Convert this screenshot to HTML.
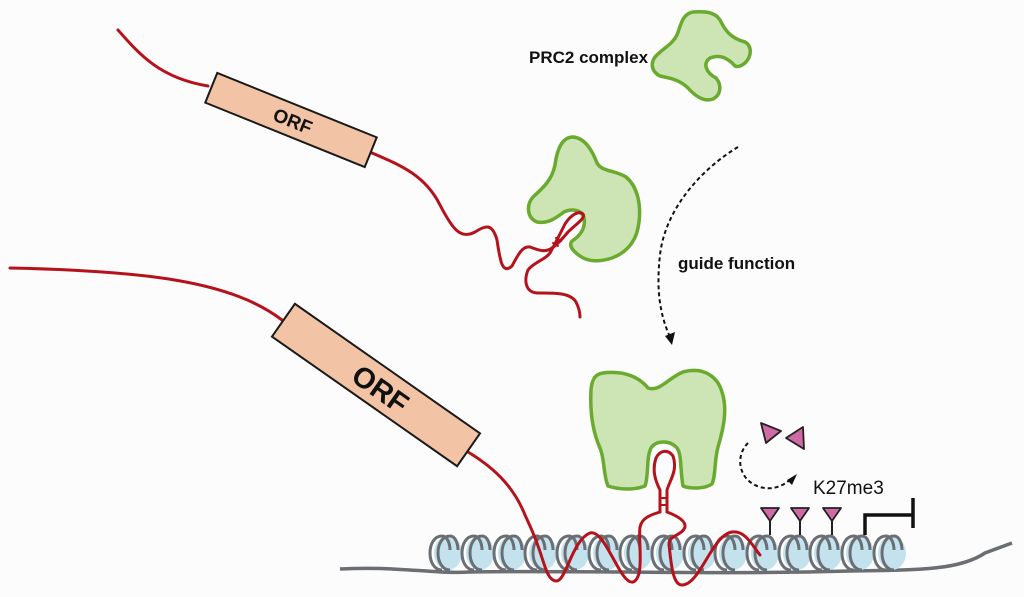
<!DOCTYPE html>
<html><head><meta charset="utf-8"><style>
html,body{margin:0;padding:0;background:#fcfcfc;}
svg{display:block;}
text{font-family:"Liberation Sans",Arial,sans-serif;}
</style></head><body>
<svg width="1024" height="597" viewBox="0 0 1024 597" xmlns="http://www.w3.org/2000/svg">
<rect width="1024" height="597" fill="#fcfcfc"/>
<!-- DNA line -->
<path d="M340 569 C400 566 430 574 470 572 C600 570 700 575 850 571 C920 570 960 570 985 553 L1012 543" fill="none" stroke="#6b6e72" stroke-width="3.5"/>
<!-- nucleosomes -->
<g>
<g transform="translate(448,553)"><ellipse rx="14" ry="17" fill="#c4e2ee"/><path d="M2 17 C-14 17 -14 -17 2 -17 C8 -17 10 -8 10 -3 M-6 17 C-22 17 -22 -17 -6 -17 C0 -17 2 -8 2 -3" fill="none" stroke="#6b6e72" stroke-width="3"/></g>
<g transform="translate(480,553)"><ellipse rx="14" ry="17" fill="#c4e2ee"/><path d="M2 17 C-14 17 -14 -17 2 -17 C8 -17 10 -8 10 -3 M-6 17 C-22 17 -22 -17 -6 -17 C0 -17 2 -8 2 -3" fill="none" stroke="#6b6e72" stroke-width="3"/></g>
<g transform="translate(512,553)"><ellipse rx="14" ry="17" fill="#c4e2ee"/><path d="M2 17 C-14 17 -14 -17 2 -17 C8 -17 10 -8 10 -3 M-6 17 C-22 17 -22 -17 -6 -17 C0 -17 2 -8 2 -3" fill="none" stroke="#6b6e72" stroke-width="3"/></g>
<g transform="translate(543,553)"><ellipse rx="14" ry="17" fill="#c4e2ee"/><path d="M2 17 C-14 17 -14 -17 2 -17 C8 -17 10 -8 10 -3 M-6 17 C-22 17 -22 -17 -6 -17 C0 -17 2 -8 2 -3" fill="none" stroke="#6b6e72" stroke-width="3"/></g>
<g transform="translate(575,553)"><ellipse rx="14" ry="17" fill="#c4e2ee"/><path d="M2 17 C-14 17 -14 -17 2 -17 C8 -17 10 -8 10 -3 M-6 17 C-22 17 -22 -17 -6 -17 C0 -17 2 -8 2 -3" fill="none" stroke="#6b6e72" stroke-width="3"/></g>
<g transform="translate(607,553)"><ellipse rx="14" ry="17" fill="#c4e2ee"/><path d="M2 17 C-14 17 -14 -17 2 -17 C8 -17 10 -8 10 -3 M-6 17 C-22 17 -22 -17 -6 -17 C0 -17 2 -8 2 -3" fill="none" stroke="#6b6e72" stroke-width="3"/></g>
<g transform="translate(638,553)"><ellipse rx="14" ry="17" fill="#c4e2ee"/><path d="M2 17 C-14 17 -14 -17 2 -17 C8 -17 10 -8 10 -3 M-6 17 C-22 17 -22 -17 -6 -17 C0 -17 2 -8 2 -3" fill="none" stroke="#6b6e72" stroke-width="3"/></g>
<g transform="translate(670,553)"><ellipse rx="14" ry="17" fill="#c4e2ee"/><path d="M2 17 C-14 17 -14 -17 2 -17 C8 -17 10 -8 10 -3 M-6 17 C-22 17 -22 -17 -6 -17 C0 -17 2 -8 2 -3" fill="none" stroke="#6b6e72" stroke-width="3"/></g>
<g transform="translate(702,553)"><ellipse rx="14" ry="17" fill="#c4e2ee"/><path d="M2 17 C-14 17 -14 -17 2 -17 C8 -17 10 -8 10 -3 M-6 17 C-22 17 -22 -17 -6 -17 C0 -17 2 -8 2 -3" fill="none" stroke="#6b6e72" stroke-width="3"/></g>
<g transform="translate(733,553)"><ellipse rx="14" ry="17" fill="#c4e2ee"/><path d="M2 17 C-14 17 -14 -17 2 -17 C8 -17 10 -8 10 -3 M-6 17 C-22 17 -22 -17 -6 -17 C0 -17 2 -8 2 -3" fill="none" stroke="#6b6e72" stroke-width="3"/></g>
<g transform="translate(765,553)"><ellipse rx="14" ry="17" fill="#c4e2ee"/><path d="M2 17 C-14 17 -14 -17 2 -17 C8 -17 10 -8 10 -3 M-6 17 C-22 17 -22 -17 -6 -17 C0 -17 2 -8 2 -3" fill="none" stroke="#6b6e72" stroke-width="3"/></g>
<g transform="translate(797,553)"><ellipse rx="14" ry="17" fill="#c4e2ee"/><path d="M2 17 C-14 17 -14 -17 2 -17 C8 -17 10 -8 10 -3 M-6 17 C-22 17 -22 -17 -6 -17 C0 -17 2 -8 2 -3" fill="none" stroke="#6b6e72" stroke-width="3"/></g>
<g transform="translate(828,553)"><ellipse rx="14" ry="17" fill="#c4e2ee"/><path d="M2 17 C-14 17 -14 -17 2 -17 C8 -17 10 -8 10 -3 M-6 17 C-22 17 -22 -17 -6 -17 C0 -17 2 -8 2 -3" fill="none" stroke="#6b6e72" stroke-width="3"/></g>
<g transform="translate(860,553)"><ellipse rx="14" ry="17" fill="#c4e2ee"/><path d="M2 17 C-14 17 -14 -17 2 -17 C8 -17 10 -8 10 -3 M-6 17 C-22 17 -22 -17 -6 -17 C0 -17 2 -8 2 -3" fill="none" stroke="#6b6e72" stroke-width="3"/></g>
<g transform="translate(892,553)"><ellipse rx="14" ry="17" fill="#c4e2ee"/><path d="M2 17 C-14 17 -14 -17 2 -17 C8 -17 10 -8 10 -3 M-6 17 C-22 17 -22 -17 -6 -17 C0 -17 2 -8 2 -3" fill="none" stroke="#6b6e72" stroke-width="3"/></g>
</g>

<!-- PRC2 shapes -->
<g fill="#cde4b5" stroke="#6aaa2e" stroke-width="3.5" stroke-linejoin="round">
<path d="M693 12 C705 11 715 12 720 20 C725 30 730 38 745 42 C752 46 752 56 745 63 C740 67 737 67 735 66 C728 58 720 54 710 58 C703 63 705 72 716 78 C722 85 721 95 713 99 C705 102 697 98 688 88 C680 80 670 78 660 76 C652 72 650 64 655 57 C663 48 672 45 677 35 C681 25 682 14 693 12 Z"/>
<path d="M573 137 C585 138 592 150 597 163 C602 172 615 170 626 177 C638 187 641 205 639 222 C637 240 628 252 612 258 C600 262 588 262 580 256 C574 252 568 246 572 241 C580 236 586 228 584 218 C582 210 572 208 564 212 C556 218 548 224 537 222 C527 218 526 205 533 197 C543 188 552 180 555 165 C557 150 562 137 573 137 Z"/>
<path d="M603 373 C625 370 640 378 648 388 C660 392 668 378 683 372 C705 366 718 378 722 392 C728 410 723 430 718 447 C714 462 716 475 712 484 C705 489 690 489 683 486 C680 470 682 455 677 448 C670 440 656 440 651 448 C646 458 649 475 645 486 C635 490 620 490 608 486 C603 474 605 460 600 448 C592 430 590 410 591 390 C592 378 596 374 603 373 Z"/>
</g>

<!-- red RNA lines -->
<g fill="none" stroke="#b5121b" stroke-width="3" stroke-linecap="round" stroke-linejoin="round">
<path d="M118 30 C140 55 160 78 208 86"/>
<path d="M372 153 C400 165 425 175 440 205 C452 228 460 240 475 232 C485 226 492 222 497 240 C500 260 502 275 512 266 C518 255 522 246 530 247 C538 250 545 253 552 248"/>
<path d="M552 248 C558 244 563 238 568 232 C576 224 586 218 583 214 C578 210 570 216 565 224 C560 234 556 242 550 253 C545 260 534 262 528 270 C524 280 525 292 537 293 C552 293 570 292 576 302 C580 310 580 316 580 317"/>
<path d="M553 243 l5 3 M556 238 l5 3" stroke-width="2"/>
<path d="M10 268 C150 271 232 282 282 320"/>
<path d="M468 452 C498 470 515 490 525 515 C532 530 536 540 538 546 C545 565 547 580 556 581 C566 582 572 540 590 533 C605 528 620 585 633 582 C645 578 638 540 640 527 C642 518 650 515 660 512"/>
<path d="M660 512 L660 490 C655 480 652 470 656 458 C660 450 668 449 673 456 C678 470 670 480 667 490 L667 512"/>
<path d="M660 498 h7 M660 505 h7" stroke-width="2"/>
<path d="M667 512 C675 515 686 520 685 527 C682 536 668 535 669 545 C671 560 672 585 682 585 C700 585 712 535 732 532 C745 530 752 545 760 555"/>
</g>

<!-- ORF boxes -->
<g transform="translate(291,120) rotate(22)">
<rect x="-86" y="-16" width="172" height="32" fill="#f2c4a5" stroke="#1a1a1a" stroke-width="2"/>
<text x="2" y="7" text-anchor="middle" font-size="19" font-weight="bold" fill="#111">ORF</text>
</g>
<g transform="translate(376,385) rotate(35)">
<rect x="-113" y="-20" width="226" height="40" fill="#f2c4a5" stroke="#1a1a1a" stroke-width="2"/>
<text x="6" y="11" text-anchor="middle" font-size="29" font-weight="bold" fill="#111">ORF</text>
</g>

<!-- dashed arrows -->
<g fill="none" stroke="#111" stroke-width="2" stroke-dasharray="4 3">
<path d="M738 147 C700 170 665 210 660 255 C656 290 660 315 670 337"/>
<path d="M748 443 C736 455 738 475 753 484 C767 492 782 488 792 478"/>
</g>
<path d="M665 336 L672 345 L675 332 Z" fill="#111"/>
<path d="M787 480 L797 474 L792 485 Z" fill="#111"/>

<!-- triangles -->
<g fill="#d06aa6" stroke="#222" stroke-width="1.8" stroke-linejoin="round">
<path d="M761 423 L781 431 L766 443 Z"/>
<path d="M803 427 L786 438 L804 449 Z"/>
<path d="M761 508 L779 508 L770 521 Z"/>
<path d="M791 508 L809 508 L800 521 Z"/>
<path d="M823 508 L841 508 L832 521 Z"/>
</g>
<g stroke="#222" stroke-width="2">
<line x1="770" y1="521" x2="770" y2="535"/>
<line x1="800" y1="521" x2="800" y2="535"/>
<line x1="832" y1="521" x2="832" y2="535"/>
</g>
<path d="M865 535 L865 515 L913 515 M913 498 L913 528" fill="none" stroke="#111" stroke-width="3.5"/>

<!-- labels -->
<text x="529" y="63" font-size="17" font-weight="bold" fill="#111">PRC2 complex</text>
<text x="678" y="269" font-size="17" font-weight="bold" fill="#111">guide function</text>
<text x="813" y="494" font-size="19" fill="#111">K27me3</text>
</svg>
</body></html>
